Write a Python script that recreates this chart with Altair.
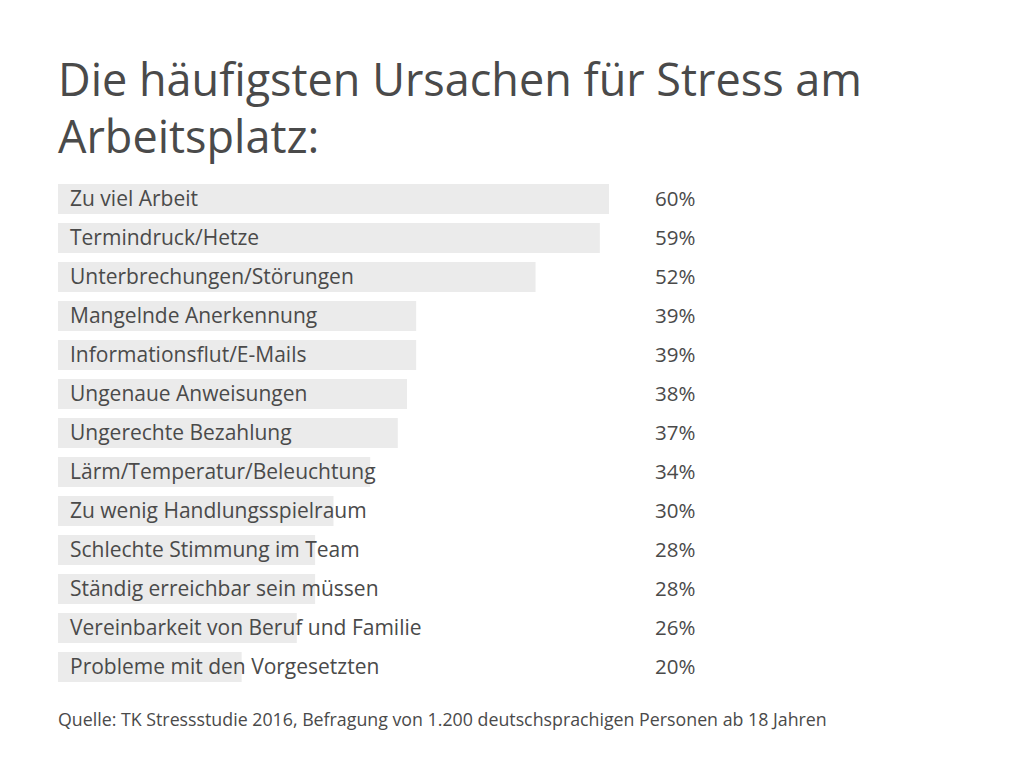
import altair as alt
import pandas as pd

categories = [
    "Zu viel Arbeit",
    "Termindruck/Hetze",
    "Unterbrechungen/Störungen",
    "Mangelnde Anerkennung",
    "Informationsflut/E-Mails",
    "Ungenaue Anweisungen",
    "Ungerechte Bezahlung",
    "Lärm/Temperatur/Beleuchtung",
    "Zu wenig Handlungsspielraum",
    "Schlechte Stimmung im Team",
    "Ständig erreichbar sein müssen",
    "Vereinbarkeit von Beruf und Familie",
    "Probleme mit den Vorgesetzten",
]
values = [60, 59, 52, 39, 39, 38, 37, 34, 30, 28, 28, 26, 20]

title_lines = ["Die häufigsten Ursachen für Stress am", "Arbeitsplatz:"]
source_text = "Quelle: TK Stressstudie 2016, Befragung von 1.200 deutschsprachigen Personen ab 18 Jahren"

df = pd.DataFrame({"cat": categories, "val": values})
df["pct"] = df["val"].astype(str) + "%"

FONT = "Open Sans"
TXT = "#4a4a4a"
W = 640
H = 507

xscale = alt.Scale(domain=[0, 60 * W / 551], nice=False, zero=True)
yenc = alt.Y("cat:N", sort=categories, axis=None,
             scale=alt.Scale(paddingInner=0.23, paddingOuter=0.115))

base = alt.Chart(df)

bars = base.mark_bar(color="#ebebeb").encode(
    x=alt.X("val:Q", scale=xscale, axis=None),
    y=yenc,
)

labels = base.mark_text(align="left", baseline="middle", font=FONT, fontSize=21,
                        color=TXT, dy=1).encode(
    x=alt.value(12),
    y=yenc,
    text="cat:N",
)

pcts = base.mark_text(align="left", baseline="middle", font=FONT, fontSize=20.5,
                      color=TXT, dy=1).encode(
    x=alt.value(597),
    y=yenc,
    text="pct:N",
)

title_df = pd.DataFrame({"t": title_lines, "yy": [-84, -27]})
title = alt.Chart(title_df).mark_text(align="left", baseline="alphabetic", font=FONT,
                                      fontSize=45, color=TXT).encode(
    x=alt.value(0),
    y=alt.Y("yy:Q", scale=None),
    text="t:N",
)

src_df = pd.DataFrame({"t": [source_text]})
source = alt.Chart(src_df).mark_text(align="left", baseline="alphabetic", font=FONT,
                                     fontSize=17.8, color=TXT).encode(
    x=alt.value(0),
    y=alt.value(546),
    text="t:N",
)

chart = alt.layer(bars, labels, pcts, title, source).properties(
    width=W,
    height=H,
    autosize=alt.AutoSizeParams(type="none"),
    padding={"left": 50, "top": 171.5, "right": 318, "bottom": 76},
    background="white",
).configure_view(stroke=None)

chart.save("out.html", embed_options={"renderer": "svg", "actions": False})
